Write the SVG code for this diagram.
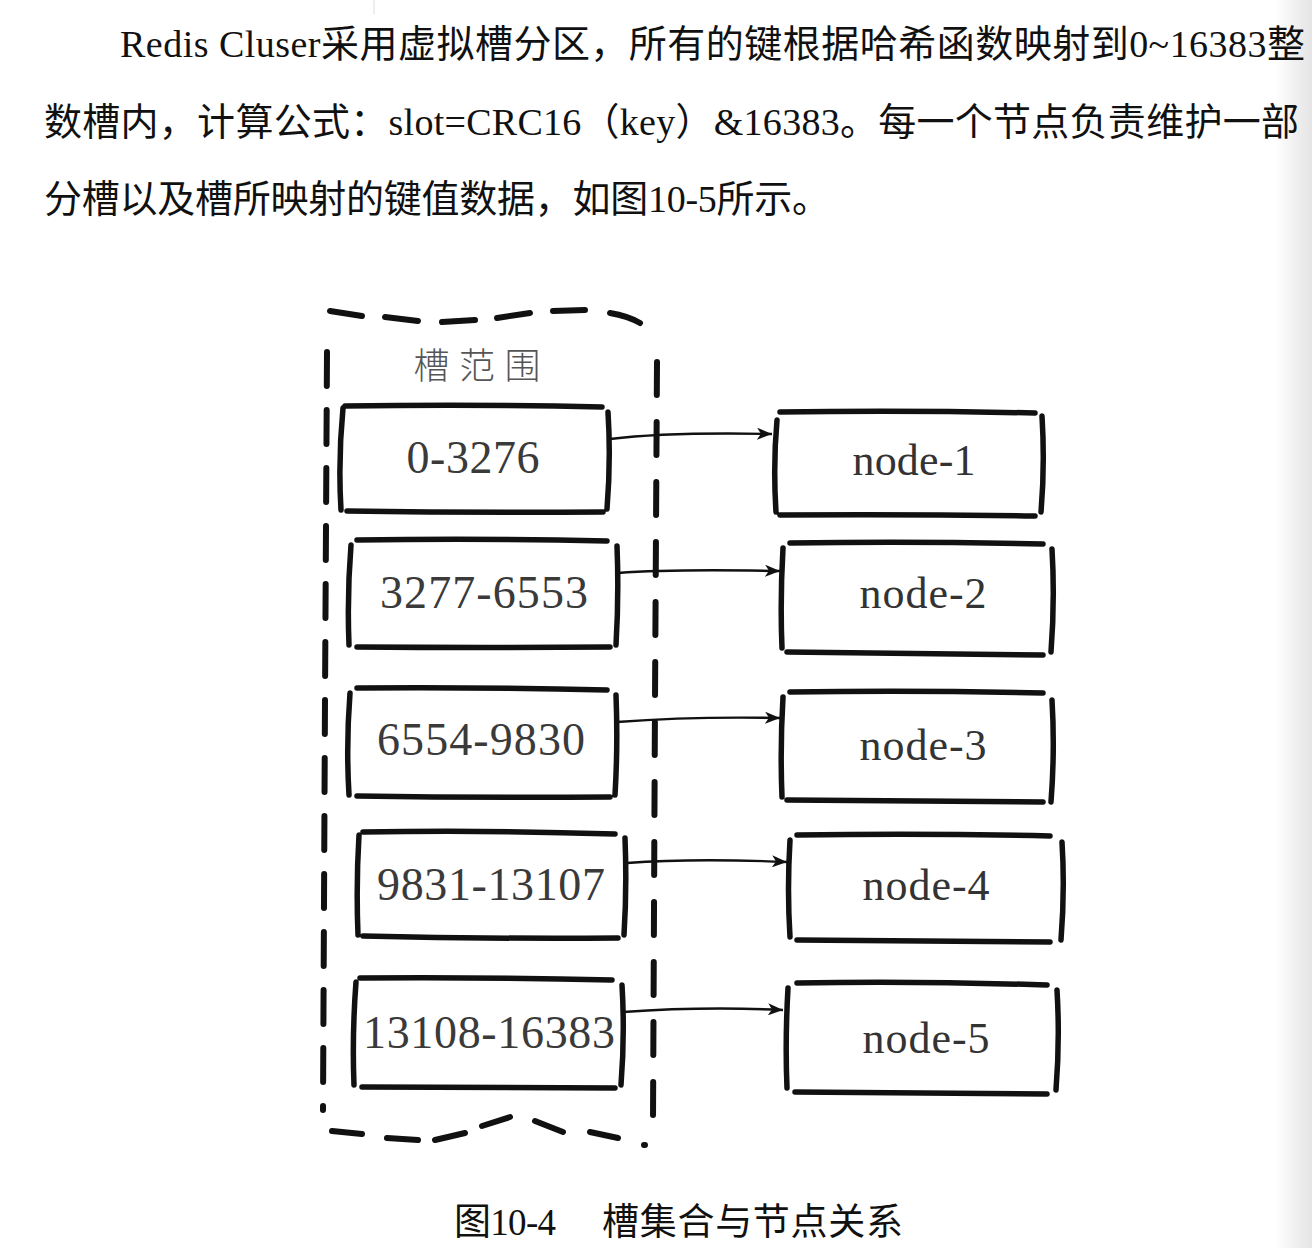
<svg xmlns="http://www.w3.org/2000/svg" width="1312" height="1248" viewBox="0 0 1312 1248">
<style>
.p{font-family:"Liberation Serif","Noto Sans CJK SC",serif;font-size:38px;fill:#111}
.b{fill:none;stroke:#111;stroke-width:5.5;stroke-linecap:round;stroke-linejoin:round}
.d{fill:none;stroke:#111;stroke-width:6;stroke-linecap:round}
.t{font-family:"Liberation Serif",serif;font-size:46px;fill:#3a3a3a}
.n{font-family:"Liberation Serif",serif;font-size:44px;fill:#333}
.a{fill:none;stroke:#111;stroke-width:2.4}
</style>
<defs>
<marker id="ah" markerUnits="userSpaceOnUse" markerWidth="16" markerHeight="12" refX="15" refY="6" orient="auto">
<path d="M0,0 L15,6 L0,12 L4,6 z" fill="#111"/>
</marker>
<linearGradient id="edge" x1="0" y1="0" x2="1" y2="0">
<stop offset="0" stop-color="#ffffff"/>
<stop offset="1" stop-color="#e4e4e4"/>
</linearGradient>
</defs>
<rect width="1312" height="1248" fill="#fff"/>
<rect x="1275" y="0" width="37" height="1248" fill="url(#edge)"/>
<line x1="374" y1="0" x2="374" y2="14" stroke="#ddd" stroke-width="1"/>

<g id="paragraph">
<text class="p" x="120" y="57" textLength="1185" lengthAdjust="spacing">Redis Cluser采用虚拟槽分区，所有的键根据哈希函数映射到0~16383整</text>
<text class="p" x="44" y="135" textLength="1255" lengthAdjust="spacing">数槽内，计算公式：slot=CRC16（key）&amp;16383。每一个节点负责维护一部</text>
<text class="p" x="44" y="212" textLength="786" lengthAdjust="spacing">分槽以及槽所映射的键值数据，如图10-5所示。</text>
</g>

<g id="slot-range-group">
<path class="d" d="M330,311 L362,316 M385,317 L418,321 M442,322 L475,320 M497,318 L530,313 M553,311 L585,310 M610,313 Q628,316 640,323"/>
<path class="d" d="M327,352 L325,700 L323,1110" stroke-dasharray="34 24"/>
<path class="d" d="M657,362 L655,700 L653,1120" stroke-dasharray="33 27"/>
<path class="d" d="M332,1131 L362,1134 M387,1138 L418,1140 M435,1140 L465,1133 M482,1126 L510,1117 M535,1121 L563,1132 M590,1132 L618,1138 M644,1145 L645,1145"/>
<text x="477" y="379" text-anchor="middle" textLength="127" lengthAdjust="spacing" style="font-family:'Noto Sans CJK SC',sans-serif;font-size:36px;font-weight:300;fill:#555">槽范围</text>
</g>

<g id="slot-1">
<path class="b" d="M345,406 Q475,404 602,407 M343,408 Q338,460 341,510 M347,511 Q475,513 603,512 M608,412 Q611,460 607,509"/>
<text class="t" x="473" y="473" text-anchor="middle" textLength="133" lengthAdjust="spacing">0-3276</text>
</g>
<g id="slot-2">
<path class="b" d="M357,540 Q480,538 607,541 M351,545 Q347,595 349,645 M357,647 Q485,648 610,647 M617,546 Q619,595 616,645"/>
<text class="t" x="484" y="608" text-anchor="middle" textLength="208" lengthAdjust="spacing">3277-6553</text>
</g>
<g id="slot-3">
<path class="b" d="M357,688 Q480,687 607,690 M350,693 Q346,745 349,795 M357,796 Q485,798 610,797 M616,695 Q618,745 615,795"/>
<text class="t" x="481" y="755" text-anchor="middle" textLength="208" lengthAdjust="spacing">6554-9830</text>
</g>
<g id="slot-4">
<path class="b" d="M363,832 Q490,830 615,834 M359,835 Q356,885 358,935 M363,936 Q490,939 618,938 M625,838 Q627,888 624,935"/>
<text class="t" x="491" y="900" text-anchor="middle" textLength="228" lengthAdjust="spacing">9831-13107</text>
</g>
<g id="slot-5">
<path class="b" d="M360,978 Q485,977 612,980 M356,982 Q352,1035 354,1085 M362,1087 Q490,1088 615,1088 M622,985 Q625,1035 621,1085"/>
<text class="t" x="489" y="1048" text-anchor="middle" textLength="252" lengthAdjust="spacing">13108-16383</text>
</g>

<g id="node-1">
<path class="b" d="M780,412 Q905,410 1035,413 M777,420 Q773,465 776,512 M780,515 Q905,514 1035,516 M1042,416 Q1045,465 1041,512"/>
<text class="n" x="914" y="475" text-anchor="middle" textLength="123" lengthAdjust="spacing">node-1</text>
</g>
<g id="node-2">
<path class="b" d="M790,543 Q915,541 1043,544 M783,548 Q780,600 782,648 M787,652 Q915,653 1043,655 M1052,549 Q1055,600 1051,652"/>
<text class="n" x="923" y="608" text-anchor="middle" textLength="127" lengthAdjust="spacing">node-2</text>
</g>
<g id="node-3">
<path class="b" d="M790,692 Q915,690 1043,693 M783,697 Q780,748 782,797 M787,800 Q915,801 1043,802 M1052,700 Q1055,750 1051,802"/>
<text class="n" x="923" y="760" text-anchor="middle" textLength="127" lengthAdjust="spacing">node-3</text>
</g>
<g id="node-4">
<path class="b" d="M797,835 Q925,833 1050,836 M790,840 Q787,890 790,937 M797,940 Q925,941 1050,942 M1062,842 Q1065,890 1061,940"/>
<text class="n" x="926" y="900" text-anchor="middle" textLength="127" lengthAdjust="spacing">node-4</text>
</g>
<g id="node-5">
<path class="b" d="M797,983 Q920,981 1047,985 M788,988 Q785,1040 787,1088 M795,1092 Q920,1093 1047,1094 M1057,990 Q1060,1040 1056,1090"/>
<text class="n" x="926" y="1053" text-anchor="middle" textLength="127" lengthAdjust="spacing">node-5</text>
</g>

<g id="connectors">
<path class="a" marker-end="url(#ah)" d="M610,439 C660,433 720,433 772,434"/>
<path class="a" marker-end="url(#ah)" d="M618,573 C670,569 730,570 780,571"/>
<path class="a" marker-end="url(#ah)" d="M617,722 C670,718 730,717 780,718"/>
<path class="a" marker-end="url(#ah)" d="M627,863 C680,859 740,860 787,862"/>
<path class="a" marker-end="url(#ah)" d="M623,1012 C680,1008 740,1008 783,1010"/>
</g>

<g id="caption">
<text class="p" y="1235" style="font-size:37px"><tspan x="454" textLength="102" lengthAdjust="spacing">图10-4</tspan><tspan x="602" textLength="301" lengthAdjust="spacing">槽集合与节点关系</tspan></text>
</g>
</svg>
